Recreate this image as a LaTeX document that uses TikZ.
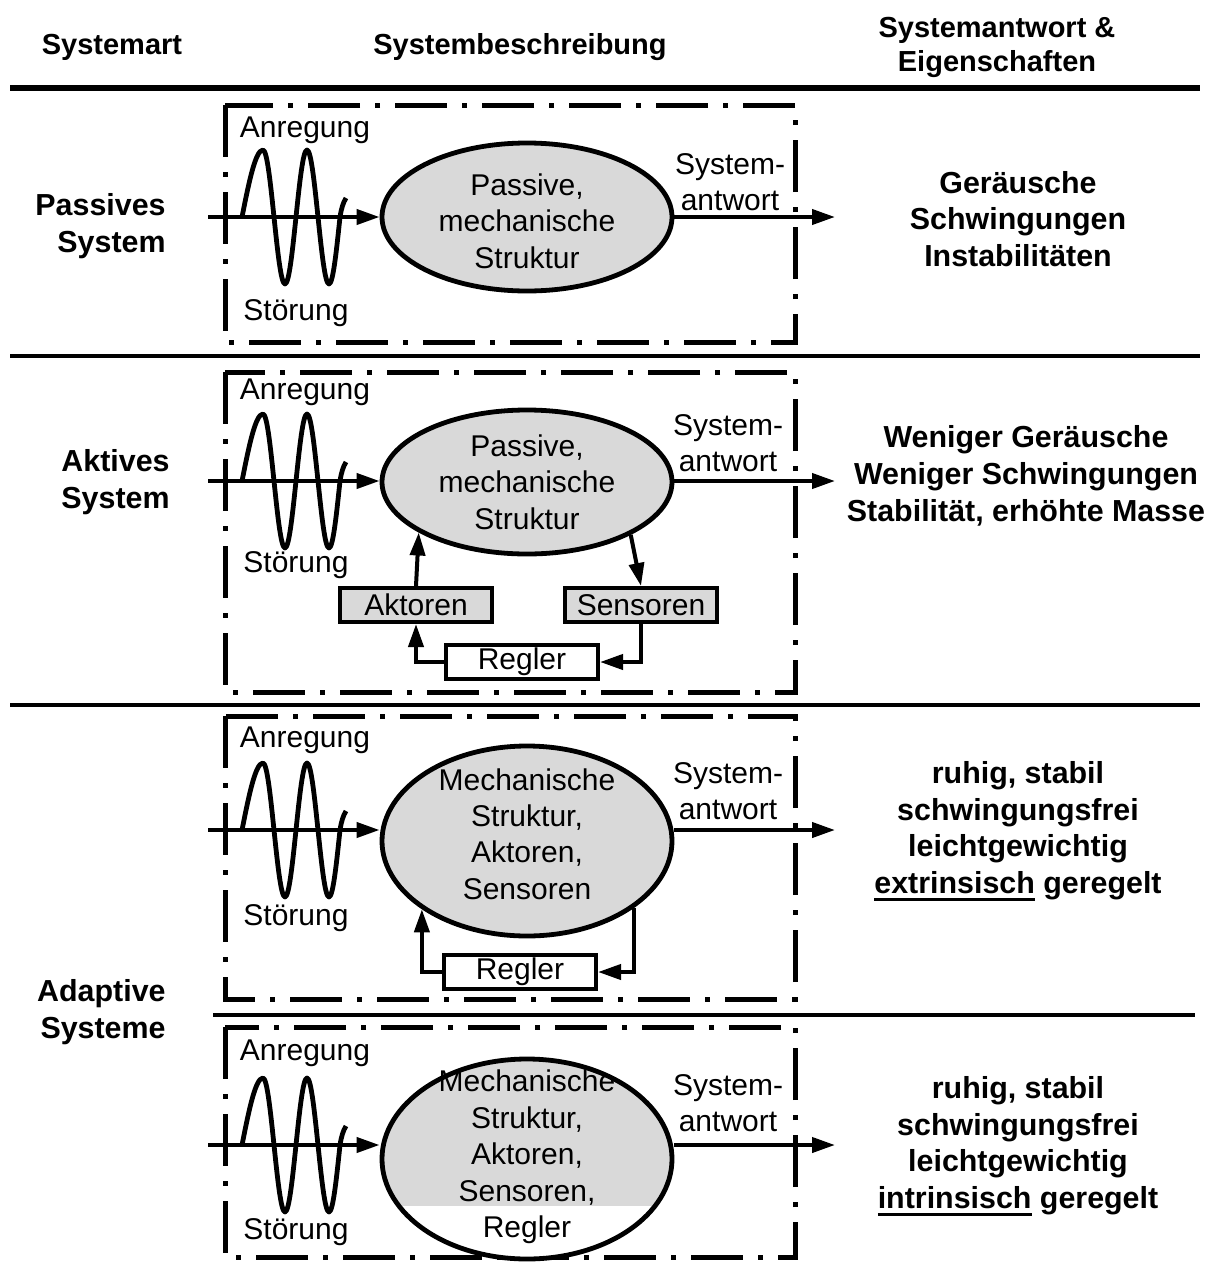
\documentclass[tikz,border=0pt]{standalone}
\usepackage{fontspec}
\setmainfont{Liberation Sans}
\usetikzlibrary{arrows.meta,shapes.geometric}
\definecolor{structgray}{gray}{0.85}
\newcommand\plainsize{\fontsize{15}{18.2}\selectfont}
\newcommand\boldsize{\fontsize{15.2}{18.4}\selectfont\bfseries}
\newcommand\headsize{\fontsize{14.5}{17}\selectfont\bfseries}
\newcommand\thickul[1]{\leavevmode\vtop{\hbox{#1}\kern2pt\hrule height 1.4pt}}

\tikzset{
  frame/.style={line width=2.5pt, dash pattern=on 26pt off 7.5pt on 2.5pt off 7.5pt},
  rowrule/.style={line width=1.8pt},
  headrule/.style={line width=3pt},
  flow/.style={line width=2pt, -{Triangle[length=11.5pt,width=7.5pt]}},
  wavy/.style={line width=2.4pt, line join=round},
  struct/.style={ellipse, draw, line width=2.4pt, fill=structgray, inner sep=0pt, minimum width=145pt},
  unitbox/.style={rectangle, draw, line width=2pt, inner sep=0pt, minimum width=76pt, minimum height=17pt, font=\plainsize},
  txt/.style={inner sep=0pt, align=center, font=\plainsize},
  head/.style={inner sep=0pt, align=center, font=\headsize},
  bold/.style={inner sep=0pt, align=center, font=\boldsize},
  side/.style={inner sep=0pt, align=right, anchor=east, font=\boldsize},
}

% excitation signal drawn around a given baseline
\newcommand\excitation[1]{%
  \begin{scope}[shift={(0,#1)}]
    \draw[wavy] (242,0) sin (263,-67) cos (274,0) sin (285,67) cos (296,0)
      sin (307,-67) cos (318,0) sin (329,67) cos (340,0)
      .. controls (341.5,-9) and (343,-14) .. (346,-19);
  \end{scope}}

\begin{document}
\begin{tikzpicture}[x=0.5pt,y=-0.5pt]
\useasboundingbox (0,0) rectangle (1210,1270);
\clip (0,0) rectangle (1210,1270);

% column headers
\node[head] (h1) at (112,47) {Systemart};
\node[head] (h2) at (520,47) {Systembeschreibung};
\node[head] (h3) at (997,47) {Systemantwort \&\\Eigenschaften};
\draw[headrule] (10,88) -- (1200,88);
\draw[rowrule] (10,356) -- (1200,356);
\draw[rowrule] (10,705) -- (1200,705);
\draw[rowrule] (213,1015) -- (1195,1015);

% ---------- passive system ----------
\node[side] (k1) at (166,226) {Passives\\System};
\draw[frame] (225,105) rectangle (795,342);
\excitation{217}
\node[txt] (an1) at (305,130) {Anregung};
\node[txt] (st1) at (296,313) {Störung};
\node[struct, minimum height=74pt] (e1) at (527,217) {};
\node[txt] (t1) at (527,221) {Passive,\\mechanische\\Struktur};
\coordinate (in1) at (208,217);
\coordinate (out1) at (835,217);
\draw[flow] (in1) -- (in1 -| e1.west);
\draw[flow] (e1.east) -- (out1);
\node[txt] (sa1) at (730,182) {System-\\antwort};
\node[bold] (r1) at (1018,219) {Geräusche\\Schwingungen\\Instabilitäten};

% ---------- active system ----------
\node[side] (k2) at (170,482) {Aktives\\System};
\draw[frame] (225,372) rectangle (795,692);
\excitation{481}
\node[txt] (an2) at (305,392) {Anregung};
\node[txt] (st2) at (296,565) {Störung};
\node[struct, minimum height=72pt] (e2) at (527,482) {};
\node[txt] (t2) at (527,482) {Passive,\\mechanische\\Struktur};
\coordinate (in2) at (208,481);
\coordinate (out2) at (835,481);
\draw[flow] (in2) -- (in2 -| e2.west);
\draw[flow] (e2.east |- out2) -- (out2);
\node[txt] (sa2) at (728,443) {System-\\antwort};
\node[bold] (r2) at (1026,476) {Weniger Geräusche\\Weniger Schwingungen\\Stabilität, erhöhte Masse};
\node[unitbox, fill=structgray] (akt) at (416,605) {Aktoren};
\node[unitbox, fill=structgray] (sen) at (641,605) {Sensoren};
\node[unitbox, fill=white] (reg2) at (522,662) {Regler};
\draw[flow] (akt.north) -- (e2.205);
\draw[flow] (e2.333) -- (sen.north);
\draw[flow] (reg2.west) -| (akt.south);
\draw[flow] (sen.south) |- (reg2.east);

% ---------- adaptive system, extrinsic control ----------
\node[side] (k3) at (166,1012) {Adaptive\\Systeme};
\draw[frame] (225,716) rectangle (795,999);
\excitation{830}
\node[txt] (an3) at (305,740) {Anregung};
\node[txt] (st3) at (296,918) {Störung};
\node[struct, minimum height=95pt] (e3) at (527,841) {};
\node[txt] (t3) at (527,834) {Mechanische\\Struktur,\\Aktoren,\\Sensoren};
\coordinate (in3) at (208,830);
\coordinate (out3) at (835,830);
\draw[flow] (in3) -- (in3 -| e3.west);
\draw[flow] (e3.east |- out3) -- (out3);
\node[txt] (sa3) at (728,791) {System-\\antwort};
\node[bold] (r3) at (1018,831) {ruhig, stabil\\schwingungsfrei\\leichtgewichtig\\\thickul{extrinsisch} geregelt};
\node[unitbox, fill=white] (reg3) at (520,972) {Regler};
\draw[flow] (reg3.west) -| (e3.213);
\draw[flow] (e3.328) |- (reg3.east);

% ---------- adaptive system, intrinsic control ----------
\draw[frame] (225,1027) rectangle (795,1257);
\excitation{1145}
\node[txt] (an4) at (305,1053) {Anregung};
\node[txt] (st4) at (296,1232) {Störung};
\fill[white] (527,1159) ellipse [x radius=72.5pt, y radius=50pt];
\begin{scope}
  \clip (300,1000) rectangle (760,1205);
  \fill[structgray] (527,1159) ellipse [x radius=72.5pt, y radius=50pt];
\end{scope}
\node[ellipse, draw, line width=2.4pt, inner sep=0pt, minimum width=145pt, minimum height=100pt] (e4) at (527,1159) {};
\node[txt] (t4) at (527,1157) {Mechanische\\Struktur,\\Aktoren,\\Sensoren,\\Regler};
\coordinate (in4) at (208,1145);
\coordinate (out4) at (835,1145);
\draw[flow] (in4) -- (in4 -| e4.west);
\draw[flow] (e4.east |- out4) -- (out4);
\node[txt] (sa4) at (728,1103) {System-\\antwort};
\node[bold] (r4) at (1018,1146) {ruhig, stabil\\schwingungsfrei\\leichtgewichtig\\\thickul{intrinsisch} geregelt};
\end{tikzpicture}
\end{document}
